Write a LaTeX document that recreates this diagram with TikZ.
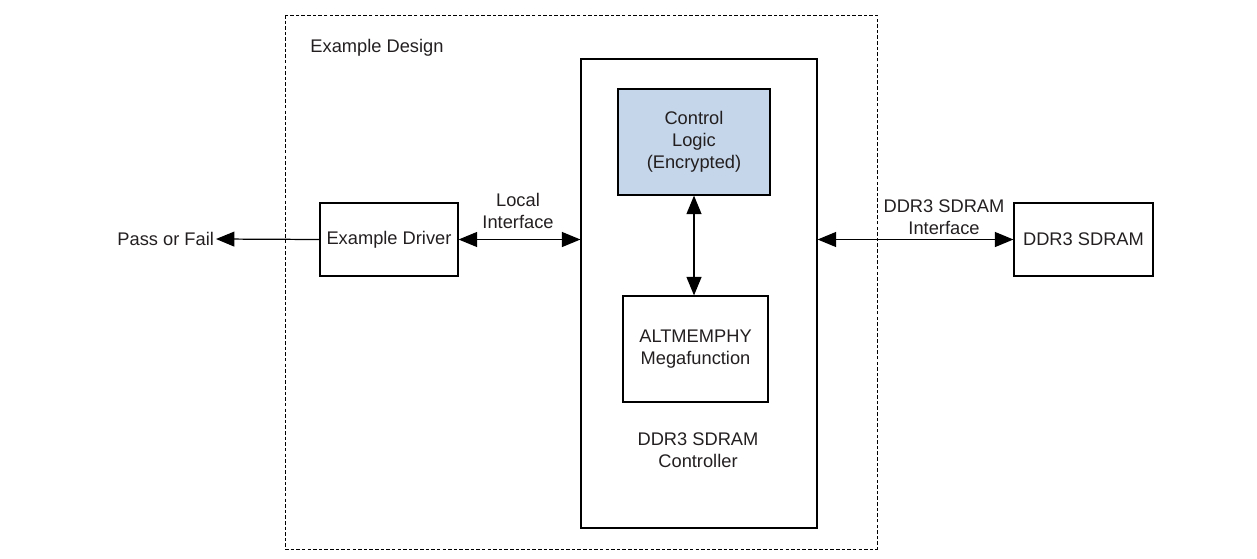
\documentclass[tikz,border=0pt]{standalone}
\usepackage{fontspec}
\setmainfont{Liberation Sans}
\usetikzlibrary{arrows.meta}
\definecolor{logicblue}{HTML}{C5D6EA}
\definecolor{inkgray}{HTML}{231F20}
\tikzset{
  blk/.style={draw, line width=0.7pt, align=center, inner sep=0pt},
  arr/.style={-{Triangle[length=10.5pt,width=8.5pt]}, line width=0.7pt},
  darr/.style={{Triangle[length=10.5pt,width=8.5pt]}-{Triangle[length=10.5pt,width=8.5pt]}, line width=0.7pt},
}
\begin{document}
\begin{tikzpicture}[x=0.02cm, y=-0.02cm, font=\fontsize{10.4}{12.5}\selectfont, text=inkgray]
          \useasboundingbox (0,0) rectangle (1257,558);
          \draw[line width=0.4pt, dash pattern=on 2pt off 1.2pt] (285,15) rectangle (877,549);
          \node (edlbl) at (377,48) {Example Design};
          \node[blk, minimum width=4.72cm, minimum height=9.38cm] (ctrl) at (699,293.5) {};
          \node[blk, fill=logicblue, minimum width=3.04cm, minimum height=2.12cm] (logic) at (694,142) {Control\\Logic\\(Encrypted)};
          \node[blk, minimum width=2.9cm, minimum height=2.12cm] (phy) at (695.5,349) {ALTMEMPHY\\Megafunction};
          \node[align=center] (ctrllbl) at (698,450) {DDR3 SDRAM\\Controller};
          \node[blk, minimum width=2.76cm, minimum height=1.46cm] (drv) at (389,239.5) {Example Driver};
          \node[blk, minimum width=2.78cm, minimum height=1.46cm] (sdram) at (1083.5,239.5) {DDR3 SDRAM};
          \node[anchor=east, inner sep=1pt] (pf) at (216,239) {Pass or Fail};
          \node[align=center] (loclbl) at (518,211) {Local\\Interface};
          \node[align=center] (memlbl) at (944,217) {DDR3 SDRAM\\Interface};
          \draw[arr] (drv.west) -- (pf.east);
          \draw[darr] (drv.east) -- (drv.east -| ctrl.west);
          \draw[darr] (drv.east -| ctrl.east) -- (sdram.west);
          \draw[darr] (logic.south) -- (logic.south |- phy.north);
        \end{tikzpicture}
\end{document}
